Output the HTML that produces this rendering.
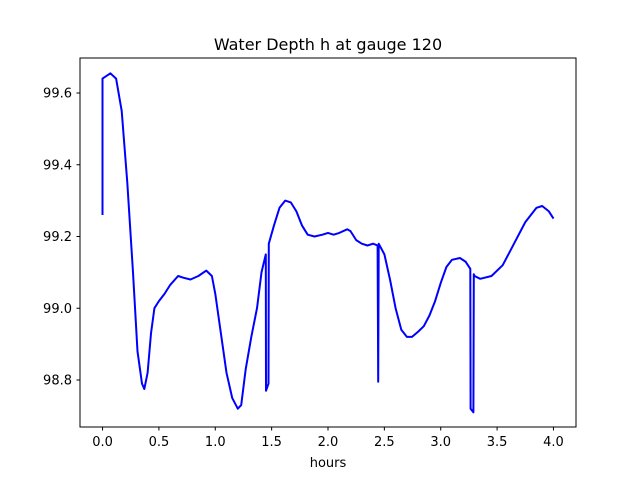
<!DOCTYPE html>
<html><head><meta charset="utf-8"><style>
body{margin:0;background:#fff;}
svg{display:block;font-family:"DejaVu Sans","Liberation Sans",sans-serif;}
</style></head><body>
<svg id="chart" width="640" height="480">
<rect x="0" y="0" width="640" height="480" fill="#fff"/>
<text x="328" y="50" text-anchor="middle" font-size="16">Water Depth h at gauge 120</text>
<g id="xt"></g><g id="yt"></g>
<polyline id="line" fill="none" stroke="#0000ff" stroke-width="2" stroke-linejoin="round"/>
<rect x="80" y="58" width="496" height="369" fill="none" stroke="#000" stroke-width="1"/>
<text x="328" y="467" text-anchor="middle" font-size="13">hours</text>
</svg>
<script>
const hours=[0,0,0.07,0.12,0.17,0.22,0.27,0.31,0.35,0.37,0.40,0.43,0.46,0.5,0.55,0.6,0.67,0.72,0.78,0.85,0.92,0.97,1.0,1.05,1.1,1.15,1.2,1.23,1.27,1.32,1.37,1.41,1.448,1.45,1.472,1.475,1.52,1.57,1.62,1.67,1.72,1.77,1.82,1.88,1.95,2.0,2.05,2.1,2.17,2.2,2.25,2.3,2.35,2.4,2.44,2.445,2.45,2.5,2.55,2.6,2.65,2.7,2.745,2.8,2.85,2.9,2.95,3.0,3.05,3.1,3.17,3.22,3.262,3.265,3.29,3.293,3.3,3.35,3.45,3.55,3.65,3.75,3.85,3.9,3.96,4.0];
const depth=[99.26,99.64,99.655,99.64,99.55,99.35,99.1,98.88,98.79,98.775,98.82,98.93,99.0,99.02,99.04,99.065,99.09,99.085,99.08,99.09,99.105,99.09,99.04,98.93,98.82,98.75,98.72,98.73,98.83,98.92,99.0,99.1,99.15,98.77,98.79,99.18,99.23,99.28,99.3,99.295,99.27,99.23,99.205,99.2,99.205,99.21,99.205,99.21,99.22,99.215,99.19,99.18,99.175,99.18,99.175,98.795,99.18,99.15,99.08,99.0,98.94,98.92,98.92,98.935,98.95,98.98,99.02,99.07,99.115,99.135,99.14,99.13,99.11,98.72,98.71,99.095,99.09,99.082,99.09,99.12,99.18,99.24,99.28,99.285,99.27,99.25];
const xTicks=[0,0.5,1,1.5,2,2.5,3,3.5,4];
const xLabels=["0.0","0.5","1.0","1.5","2.0","2.5","3.0","3.5","4.0"];
const yTicks=[98.8,99.0,99.2,99.4,99.6];
const yLabels=["98.8","99.0","99.2","99.4","99.6"];
const X=v=>80+(v+0.2)/4.4*496;
const Y=v=>93+(99.6-v)*358.75;
const NS="http://www.w3.org/2000/svg";
const line=document.getElementById('line');
line.setAttribute('points',hours.map((h,i)=>X(h).toFixed(1)+','+Y(depth[i]).toFixed(1)).join(' '));
const xt=document.getElementById('xt'),yt=document.getElementById('yt');
xTicks.forEach((t,i)=>{
 const l=document.createElementNS(NS,'line');
 
 
 l.setAttribute('x1',X(t));l.setAttribute('x2',X(t));l.setAttribute('y1',427);l.setAttribute('y2',430.5);l.setAttribute('stroke','#000');
 xt.appendChild(l);
 const tx=document.createElementNS(NS,'text');
 
 
 tx.setAttribute('x',X(t));tx.setAttribute('y',446);tx.setAttribute('text-anchor','middle');tx.setAttribute('font-size','13');
 tx.textContent=xLabels[i];xt.appendChild(tx);
});
yTicks.forEach((t,i)=>{
 const l=document.createElementNS(NS,'line');
 
 
 l.setAttribute('x1',76.5);l.setAttribute('x2',80);l.setAttribute('y1',Y(t));l.setAttribute('y2',Y(t));l.setAttribute('stroke','#000');
 yt.appendChild(l);
 const tx=document.createElementNS(NS,'text');
 
 
 tx.setAttribute('x',72);tx.setAttribute('y',Y(t)+4.5);tx.setAttribute('text-anchor','end');tx.setAttribute('font-size','13');
 tx.textContent=yLabels[i];yt.appendChild(tx);
});
</script>
</body></html>
